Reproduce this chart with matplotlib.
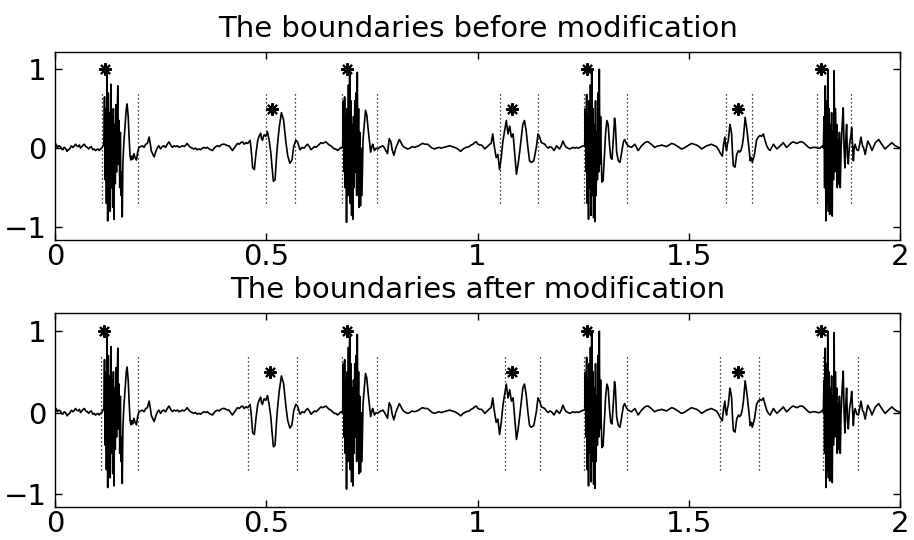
import numpy as np
import matplotlib
matplotlib.use('Agg')
import matplotlib.pyplot as plt

# signal, piece by piece (time, amplitude)
quiet_a = [(0.000, 0.03), (0.003, 0.05), (0.006, 0.01), (0.009, 0.03), (0.013, 0.02), (0.016, -0.01),
           (0.019, -0.02), (0.022, 0.01), (0.025, 0.00), (0.029, -0.04), (0.032, -0.02), (0.035, -0.01),
           (0.039, 0.03), (0.042, 0.01), (0.045, 0.02), (0.049, 0.05), (0.052, 0.03), (0.055, 0.02),
           (0.058, 0.04), (0.061, 0.00), (0.064, 0.02), (0.067, 0.04), (0.070, 0.05), (0.073, 0.02),
           (0.077, 0.01), (0.080, -0.01), (0.083, 0.01), (0.086, 0.02), (0.090, -0.02), (0.093, -0.01),
           (0.096, -0.03), (0.099, -0.02), (0.102, -0.01), (0.105, -0.03), (0.108, -0.01), (0.111, 0.00),
           (0.114, 0.03)]
burst_1 = [(0.116, 0.05), (0.1175, 0.65), (0.119, -0.4), (0.1205, 0.5), (0.122, -0.7), (0.1235, 0.95),
           (0.125, -0.92), (0.1265, 0.7), (0.128, -0.6), (0.1295, 0.45), (0.131, -0.8), (0.1325, 0.81),
           (0.134, -0.5), (0.1355, 0.4), (0.137, -0.75), (0.1385, 0.5), (0.140, -0.9), (0.1415, 0.3),
           (0.143, -0.45), (0.1445, 0.55), (0.146, -0.3), (0.1475, 0.45), (0.149, 0.79), (0.1505, -0.2),
           (0.152, 0.35), (0.1535, -0.5), (0.155, 0.2), (0.1565, -0.6), (0.158, -0.3), (0.1595, -0.87),
           (0.161, -0.2), (0.163, 0.05), (0.165, 0.2), (0.167, 0.35), (0.169, 0.5), (0.171, 0.56),
           (0.1735, 0.4), (0.176, 0.1), (0.178, -0.1), (0.180, -0.15), (0.182, -0.1), (0.184, -0.14),
           (0.187, -0.07), (0.190, -0.12), (0.193, -0.15), (0.196, -0.05)]
quiet_b = [(0.199, 0.01), (0.203, 0.02), (0.207, 0.03), (0.211, 0.01), (0.215, 0.05), (0.219, 0.06),
           (0.223, 0.14), (0.226, 0.05), (0.228, -0.03), (0.232, -0.08), (0.235, -0.11), (0.239, -0.04),
           (0.243, 0.01), (0.246, 0.03), (0.250, -0.01), (0.254, 0.02), (0.258, 0.03), (0.262, 0.01),
           (0.266, 0.05), (0.270, 0.08), (0.274, 0.04), (0.278, 0.01), (0.282, 0.03), (0.286, 0.02),
           (0.290, 0.03), (0.294, 0.01), (0.298, 0.02), (0.302, 0.03), (0.306, 0.02), (0.310, 0.04),
           (0.313, 0.06), (0.317, 0.03), (0.321, 0.01), (0.325, 0.00), (0.329, -0.01), (0.333, 0.00),
           (0.337, -0.02), (0.341, -0.01), (0.345, -0.02), (0.349, 0.00), (0.353, 0.01), (0.357, 0.00),
           (0.361, 0.01), (0.365, -0.01), (0.369, -0.02), (0.373, -0.03), (0.377, 0.00), (0.381, 0.02),
           (0.385, 0.03), (0.389, 0.02), (0.393, 0.04), (0.397, 0.05), (0.401, 0.05), (0.405, 0.04),
           (0.409, 0.03), (0.412, 0.03), (0.416, 0.00), (0.420, -0.03), (0.424, 0.00), (0.428, 0.03),
           (0.432, 0.06), (0.436, 0.05), (0.440, 0.07), (0.444, 0.08), (0.448, 0.05), (0.452, 0.07),
           (0.456, 0.06), (0.459, 0.08), (0.462, 0.10)]
event_2 = [(0.465, -0.05), (0.468, -0.25), (0.472, -0.27), (0.476, -0.06), (0.480, 0.10), (0.483, 0.15),
           (0.487, 0.19), (0.489, 0.12), (0.491, 0.10), (0.495, 0.17), (0.499, 0.15), (0.503, 0.21),
           (0.505, 0.15), (0.507, 0.10), (0.511, -0.06), (0.514, -0.25), (0.517, -0.42), (0.521, -0.40),
           (0.525, -0.06), (0.528, 0.12), (0.531, 0.27), (0.536, 0.45), (0.541, 0.36), (0.547, 0.06),
           (0.551, -0.10), (0.556, -0.19), (0.561, -0.15), (0.565, 0.02), (0.570, 0.10), (0.574, 0.08),
           (0.577, 0.03), (0.580, -0.02)]
quiet_c = [(0.585, 0.01), (0.590, 0.00), (0.594, 0.03), (0.598, 0.05), (0.602, 0.02), (0.606, -0.02),
           (0.610, 0.00), (0.614, 0.02), (0.618, 0.01), (0.622, 0.03), (0.626, 0.05), (0.629, 0.07),
           (0.633, 0.06), (0.637, 0.07), (0.641, 0.08), (0.645, 0.06), (0.649, 0.04), (0.653, 0.03),
           (0.657, 0.01), (0.661, -0.01), (0.665, -0.01), (0.669, -0.03), (0.673, -0.01), (0.677, 0.01)]
burst_3 = [(0.679, 0.0), (0.681, 0.02), (0.6825, 0.6), (0.684, -0.3), (0.6855, 0.65), (0.687, -0.5),
           (0.6885, 0.4), (0.690, -0.94), (0.6915, 0.5), (0.693, -0.6), (0.6945, 0.8), (0.696, -0.4),
           (0.6975, 0.94), (0.699, -0.7), (0.7005, 0.6), (0.702, -0.85), (0.7035, 0.3), (0.705, -0.9),
           (0.7065, 0.4), (0.708, -0.5), (0.7095, 0.6), (0.711, -0.3), (0.7125, 0.7), (0.714, -0.6),
           (0.7155, 0.96), (0.717, -0.2), (0.7185, 0.5), (0.720, -0.75), (0.7215, 0.2), (0.723, -0.73),
           (0.7245, 0.0), (0.7265, -0.6), (0.729, 0.1), (0.732, 0.3), (0.735, 0.48), (0.738, 0.42),
           (0.741, 0.25), (0.744, 0.1), (0.747, -0.05), (0.750, 0.02), (0.752, 0.05), (0.756, -0.03),
           (0.760, 0.0)]
quiet_d = [(0.764, -0.01), (0.768, 0.01), (0.772, 0.02), (0.776, 0.03), (0.780, 0.00), (0.784, -0.04),
           (0.787, -0.07), (0.791, 0.12), (0.795, 0.08), (0.798, -0.02), (0.802, -0.09), (0.807, 0.01),
           (0.811, 0.06), (0.815, 0.11), (0.819, 0.07), (0.823, 0.03), (0.827, 0.01), (0.831, 0.00),
           (0.835, -0.01), (0.840, 0.00), (0.845, 0.02), (0.851, 0.01), (0.856, 0.02), (0.861, 0.03),
           (0.866, 0.05), (0.870, 0.06), (0.876, 0.05), (0.882, 0.05), (0.888, 0.02), (0.893, 0.00),
           (0.898, -0.01), (0.903, 0.00), (0.909, 0.01), (0.914, 0.00), (0.920, 0.01), (0.927, 0.02),
           (0.934, 0.03), (0.940, 0.02), (0.946, 0.01), (0.953, -0.01), (0.960, -0.04), (0.966, -0.01),
           (0.973, 0.01), (0.980, 0.02), (0.985, 0.04), (0.989, 0.05), (0.993, 0.07), (0.997, 0.08),
           (1.001, 0.05), (1.005, 0.04), (1.009, 0.04), (1.013, 0.02), (1.017, -0.01), (1.021, 0.01),
           (1.025, 0.03), (1.029, 0.05), (1.032, 0.06)]
event_4 = [(1.036, 0.18), (1.038, 0.08), (1.040, 0.01), (1.044, -0.12), (1.048, -0.08), (1.052, -0.27),
           (1.056, -0.12), (1.060, 0.09), (1.064, 0.22), (1.068, 0.35), (1.072, 0.18), (1.076, 0.28),
           (1.080, 0.14), (1.084, 0.18), (1.088, -0.08), (1.092, -0.33), (1.096, -0.20), (1.100, -0.03),
           (1.104, 0.16), (1.107, 0.30), (1.111, 0.35), (1.115, 0.22), (1.119, 0.01), (1.123, -0.16),
           (1.127, -0.18), (1.133, -0.16), (1.139, 0.01), (1.143, 0.18), (1.147, 0.14), (1.151, 0.07),
           (1.155, 0.06), (1.159, 0.05)]
quiet_e = [(1.163, 0.02), (1.167, 0.00), (1.171, 0.02), (1.175, 0.01), (1.178, -0.01), (1.181, -0.03),
           (1.184, 0.00), (1.187, 0.03), (1.190, 0.01), (1.194, -0.01), (1.198, 0.03), (1.202, 0.09),
           (1.206, 0.04), (1.210, 0.01), (1.214, 0.00), (1.218, -0.01), (1.222, 0.00), (1.226, 0.01),
           (1.230, 0.00), (1.234, 0.01), (1.238, 0.00), (1.242, 0.01), (1.246, 0.02), (1.250, 0.03)]
burst_5 = [(1.2535, 0.03), (1.255, 0.5), (1.2565, -0.3), (1.258, 0.68), (1.2595, -0.7), (1.261, 0.4),
           (1.2625, -0.9), (1.264, 0.6), (1.2655, -0.5), (1.267, 0.8), (1.2685, -0.85), (1.270, 0.98),
           (1.2715, -0.6), (1.273, 0.5), (1.2745, -0.88), (1.276, 0.3), (1.2775, -0.93), (1.279, 0.6),
           (1.2805, -0.6), (1.282, 0.2), (1.2835, -0.4), (1.285, 0.7), (1.2865, -0.3), (1.288, 1.0),
           (1.2895, -0.2), (1.291, 0.4), (1.2925, -0.1), (1.294, -0.43), (1.297, -0.41), (1.300, -0.1),
           (1.303, 0.2), (1.306, 0.35), (1.309, 0.3), (1.312, 0.05), (1.315, -0.12), (1.318, -0.14),
           (1.321, 0.1), (1.324, 0.38), (1.326, 0.3), (1.329, -0.05), (1.333, -0.16), (1.337, -0.18),
           (1.341, -0.05), (1.345, 0.08), (1.348, 0.11)]
quiet_f = [(1.352, 0.06), (1.356, 0.03), (1.360, 0.02), (1.364, 0.01), (1.368, 0.03), (1.372, 0.05),
           (1.376, 0.01), (1.380, -0.03), (1.384, 0.00), (1.388, 0.03), (1.392, 0.05), (1.396, 0.07),
           (1.400, 0.08), (1.404, 0.08), (1.408, 0.06), (1.411, 0.05), (1.415, 0.03), (1.419, 0.01),
           (1.423, 0.02), (1.427, 0.03), (1.431, 0.03), (1.435, 0.04), (1.441, 0.03), (1.447, 0.02),
           (1.453, 0.04), (1.459, 0.06), (1.465, 0.05), (1.471, 0.03), (1.477, 0.01), (1.482, -0.01),
           (1.488, 0.00), (1.494, 0.02), (1.500, 0.04), (1.506, 0.06), (1.512, 0.05), (1.518, 0.04),
           (1.524, 0.02), (1.530, -0.01), (1.536, 0.01), (1.542, 0.03), (1.548, 0.04), (1.553, 0.05),
           (1.557, 0.04), (1.561, 0.03), (1.565, 0.02), (1.569, -0.01), (1.573, -0.05), (1.576, -0.08),
           (1.579, -0.10)]
event_6 = [(1.582, 0.05), (1.585, 0.14), (1.587, 0.02), (1.589, -0.03), (1.591, 0.05), (1.593, 0.09),
           (1.595, 0.2), (1.597, 0.30), (1.599, 0.25), (1.601, 0.18), (1.603, -0.05), (1.605, -0.22),
           (1.609, -0.24), (1.613, -0.08), (1.617, -0.03), (1.620, -0.05), (1.623, -0.03), (1.626, 0.03),
           (1.629, 0.14), (1.633, 0.39), (1.637, 0.24), (1.641, 0.05), (1.645, -0.16), (1.648, -0.12),
           (1.650, -0.18), (1.655, -0.08), (1.660, 0.10), (1.664, 0.14), (1.668, 0.16), (1.672, 0.15),
           (1.676, 0.18), (1.680, 0.10)]
quiet_g = [(1.684, 0.03), (1.688, -0.01), (1.692, -0.03), (1.696, 0.01), (1.700, 0.05), (1.704, 0.02),
           (1.708, -0.01), (1.712, 0.01), (1.716, 0.03), (1.720, 0.05), (1.723, 0.07), (1.727, 0.04),
           (1.731, 0.01), (1.735, 0.03), (1.739, 0.05), (1.743, 0.07), (1.747, 0.08), (1.751, 0.07),
           (1.755, 0.06), (1.759, 0.07), (1.763, 0.08), (1.767, 0.08), (1.771, 0.07), (1.775, 0.05),
           (1.779, 0.03), (1.783, 0.01), (1.787, 0.00), (1.793, 0.01), (1.799, 0.01), (1.805, 0.00),
           (1.810, 0.00), (1.814, 0.02), (1.817, 0.03)]
burst_7 = [(1.818, 0.0), (1.8195, 0.4), (1.821, -0.5), (1.8225, 0.79), (1.824, -0.92), (1.8255, 0.6),
           (1.827, -0.7), (1.8285, 1.0), (1.830, -0.8), (1.8315, 0.5), (1.833, -0.84), (1.8345, 0.3),
           (1.836, -0.6), (1.8375, 0.45), (1.839, -0.86), (1.8405, 0.2), (1.842, -0.4), (1.8435, 0.98),
           (1.845, -0.3), (1.8465, 0.5), (1.848, -0.2), (1.8495, 0.3), (1.851, -0.5), (1.8525, 0.1),
           (1.854, -0.45), (1.856, 0.2), (1.858, -0.5), (1.860, 0.0), (1.8625, 0.3), (1.865, 0.51),
           (1.867, 0.0), (1.869, -0.25), (1.871, 0.1), (1.873, 0.3), (1.875, -0.1), (1.877, -0.2),
           (1.880, 0.05), (1.883, 0.15), (1.885, 0.26), (1.887, 0.05), (1.889, -0.16), (1.891, 0.0),
           (1.893, 0.05), (1.897, -0.02), (1.901, -0.03), (1.907, 0.14), (1.911, 0.02), (1.913, 0.01),
           (1.917, -0.08), (1.923, 0.09), (1.929, 0.03), (1.933, -0.03), (1.941, 0.07), (1.949, 0.11),
           (1.956, 0.05), (1.964, -0.01), (1.972, 0.03), (1.980, 0.07), (1.988, 0.03), (1.996, 0.01),
           (2.000, 0.0)]

# detected events (asterisks) and boundaries (dotted lines)
event_t_before = [0.118, 0.513, 0.690, 1.082, 1.258, 1.617, 1.813]
event_t_after = [0.116, 0.509, 0.690, 1.081, 1.258, 1.616, 1.813]
event_height = [1, 0.5, 1, 0.5, 1, 0.5, 1]
bounds_before = [0.111, 0.197, 0.500, 0.569, 0.680, 0.762, 1.052, 1.142,
                 1.251, 1.353, 1.588, 1.649, 1.803, 1.884]
bounds_after = [0.109, 0.197, 0.457, 0.574, 0.680, 0.762, 1.064, 1.147,
                1.251, 1.353, 1.573, 1.666, 1.817, 1.900]

titles = ['The boundaries before modification', 'The boundaries after modification']

segments = [quiet_a, burst_1, quiet_b, event_2, quiet_c, burst_3, quiet_d, event_4,
            quiet_e, burst_5, quiet_f, event_6, quiet_g, burst_7]
sig = np.array([p for seg in segments for p in seg])
t, x = sig[:, 0], sig[:, 1]

plt.rcParams['font.family'] = 'DejaVu Sans'
fig = plt.figure(figsize=(9.14, 5.4), dpi=100)
ax1 = fig.add_axes([0.060, 0.556, 0.925, 0.348])
ax2 = fig.add_axes([0.060, 0.061, 0.925, 0.359])

for ax, ev_t, bounds, title in [(ax1, event_t_before, bounds_before, titles[0]),
                                (ax2, event_t_after, bounds_after, titles[1])]:
    ax.plot(t, x, color='black', lw=1.2)
    ax.vlines(bounds, -0.7, 0.7, colors='black', linestyles=(0, (1, 2.2)), lw=0.9)
    ax.plot(ev_t, event_height, linestyle='none', marker=(8, 2, 0), markersize=9,
            mew=1.5, color='black')
    ax.set_xlim(0, 2)
    ax.set_ylim(-1.16, 1.22)
    ax.set_xticks([0, 0.5, 1, 1.5, 2])
    ax.set_xticklabels(['0', '0.5', '1', '1.5', '2'])
    ax.set_yticks([-1, 0, 1])
    ax.set_yticklabels(['\u22121', '0', '1'])
    ax.tick_params(direction='in', top=True, right=True, length=5, width=1,
                   labelsize=21)
    ax.tick_params(axis='x', pad=2)
    ax.tick_params(axis='y', pad=6)
    for s in ax.spines.values():
        s.set_linewidth(1.0)
    ax.set_title(title, fontsize=21, pad=11)

fig.savefig('out.png', dpi=100)
